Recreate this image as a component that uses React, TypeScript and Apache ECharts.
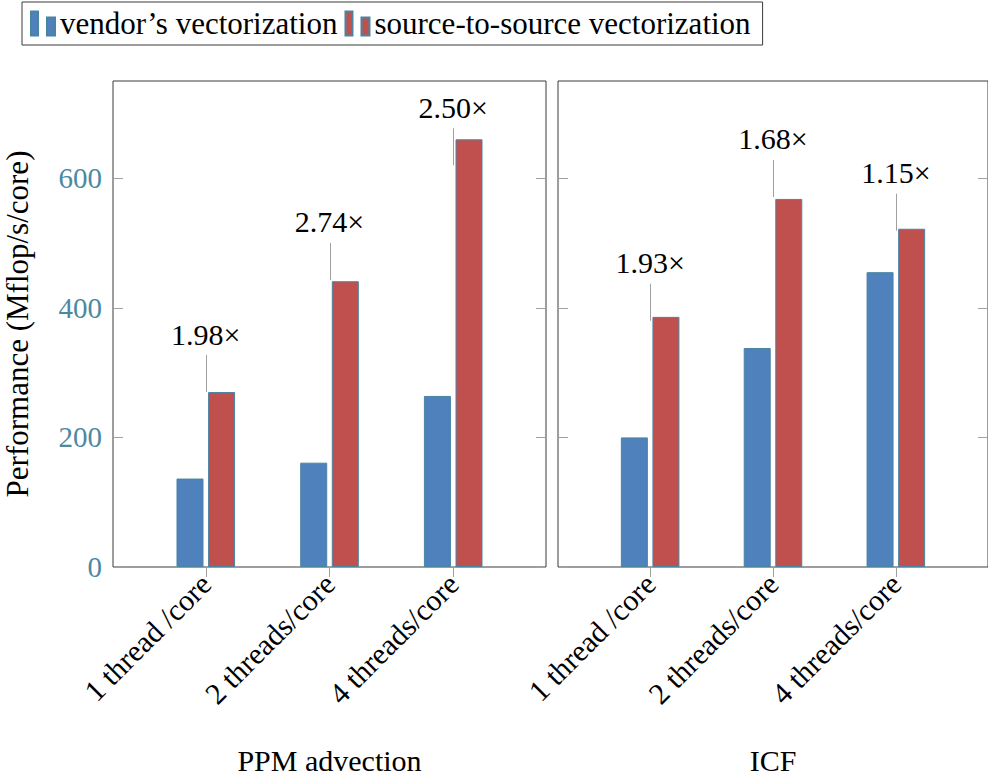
import React, { useEffect, useRef } from "react";
import * as echarts from "echarts";

// Thread configurations shown along each panel's x axis
const categories = ["1 thread /core", "2 threads/core", "4 threads/core"];
const panelNames = ["PPM advection", "ICF"];

// Performance in Mflop/s/core
const ppmVendor = [136.5, 161, 264];
const ppmSource = [270, 441, 660];
const icfVendor = [200, 338, 455];
const icfSource = [386, 568, 522];

// Speed-up callouts and the height where each callout's leader line starts
const ppmSpeedup = ["1.98×", "2.74×", "2.50×"];
const icfSpeedup = ["1.93×", "1.68×", "1.15×"];
const ppmPinAt = [270, 443, 620];
const icfPinAt = [380, 571, 519];

const yTicks = [0, 200, 400, 600];
const xTicks = [0, 1, 2];

const SERIF = "Liberation Serif, serif";
const BLUE = "#4f81bd";
const RED = "#c0504d";
const EDGE = "#4a84a3";
const FRAME = "#3a3a3a";
const TICK = "#a0a0a0";
const TEAL = "#4b88a2";

const font = (size: number) => ({
  fontFamily: SERIF,
  fontSize: size,
  fontStyle: "normal",
  fontWeight: "normal",
});

export default function App() {
  const ref = useRef<HTMLDivElement>(null);

  useEffect(() => {
    document.body.style.margin = "0";
    if (!ref.current) return;
    const chart = echarts.init(ref.current, null, { renderer: "svg" });

    const panels = [
      { vendor: ppmVendor, source: ppmSource, speedup: ppmSpeedup, pinAt: ppmPinAt },
      { vendor: icfVendor, source: icfSource, speedup: icfSpeedup, pinAt: icfPinAt },
    ];

    const grids = [
      { left: 113, top: 81, width: 433, height: 488 },
      { left: 558, top: 81, width: 432, height: 488 },
    ].map((g) => ({ ...g, show: true, borderColor: FRAME, borderWidth: 1 }));

    const xAxes = panelNames.map((name, g) => ({
      type: "value",
      gridIndex: g,
      min: -0.75,
      max: 2.75,
      name,
      nameLocation: "middle",
      nameGap: 178,
      nameTextStyle: { ...font(30), color: "#000" },
      axisLine: { show: false, onZero: false },
      splitLine: { show: false },
      axisTick: {
        show: true,
        customValues: xTicks,
        length: 10,
        lineStyle: { color: TICK, width: 1 },
      },
      axisLabel: {
        customValues: xTicks,
        formatter: (v: number) => categories[Math.round(v)] ?? "",
        rotate: 45,
        margin: 12,
        ...font(30),
        color: "#000",
      },
    }));

    const yAxes: any[] = [];
    panelNames.forEach((_, g) => {
      (["left", "right"] as const).forEach((pos) => {
        const labelled = g === 0 && pos === "left";
        yAxes.push({
          type: "value",
          gridIndex: g,
          position: pos,
          min: 0,
          max: 750,
          name: labelled ? "Performance (Mflop/s/core)" : "",
          nameLocation: "middle",
          nameGap: 80,
          nameTextStyle: { ...font(31), color: "#000" },
          axisLine: { show: false, onZero: false },
          splitLine: { show: false },
          axisTick: {
            show: true,
            inside: true,
            length: 10,
            customValues: yTicks,
            lineStyle: { color: TICK, width: 1 },
          },
          axisLabel: {
            show: labelled,
            customValues: yTicks,
            margin: 11,
            ...font(29),
            color: TEAL,
          },
        });
      });
    });

    const series: any[] = [];
    panels.forEach((p, g) => {
      series.push({
        type: "bar",
        name: "vendor’s vectorization",
        xAxisIndex: g,
        yAxisIndex: 2 * g,
        barWidth: 27,
        barGap: "17%",
        itemStyle: { color: BLUE, borderColor: EDGE, borderWidth: 1 },
        data: p.vendor.map((v, i) => [i, v]),
      });
      series.push({
        type: "bar",
        name: "source-to-source vectorization",
        xAxisIndex: g,
        yAxisIndex: 2 * g,
        barWidth: 27,
        barGap: "17%",
        itemStyle: { color: RED, borderColor: EDGE, borderWidth: 1 },
        data: p.source.map((v, i) => [i, v]),
      });
      // Speed-up callouts: a thin leader line with the ratio above it
      series.push({
        type: "custom",
        xAxisIndex: g,
        yAxisIndex: 2 * g,
        clip: false,
        data: p.pinAt.map((v, i) => [i, v]),
        renderItem: (params: any, api: any) => {
          const pt = api.coord([api.value(0), api.value(1)]);
          const x = Math.round(pt[0]) + 0.5;
          const top = pt[1] - 37;
          return {
            type: "group",
            children: [
              {
                type: "line",
                shape: { x1: x, y1: pt[1], x2: x, y2: top },
                style: { stroke: TICK, lineWidth: 1 },
              },
              {
                type: "text",
                x: pt[0],
                y: top - 21,
                style: {
                  text: p.speedup[params.dataIndex],
                  ...font(30),
                  fill: "#000",
                  align: "center",
                  verticalAlign: "middle",
                },
              },
            ],
          };
        },
      });
    });

    chart.setOption({
      animation: false,
      backgroundColor: "#fff",
      legend: {
        left: 22,
        top: 2,
        icon: "path://M0,0H7V24H0Z M16,6H24V24H16Z",
        itemWidth: 24,
        itemHeight: 24,
        itemGap: 7,
        padding: [6, 12, 6, 8],
        borderColor: FRAME,
        borderWidth: 1,
        selectedMode: false,
        textStyle: { ...font(31), color: "#000" },
      },
      grid: grids,
      xAxis: xAxes,
      yAxis: yAxes,
      series,
    });

    return () => chart.dispose();
  }, []);

  return <div ref={ref} style={{ width: 988, height: 780 }} />;
}
